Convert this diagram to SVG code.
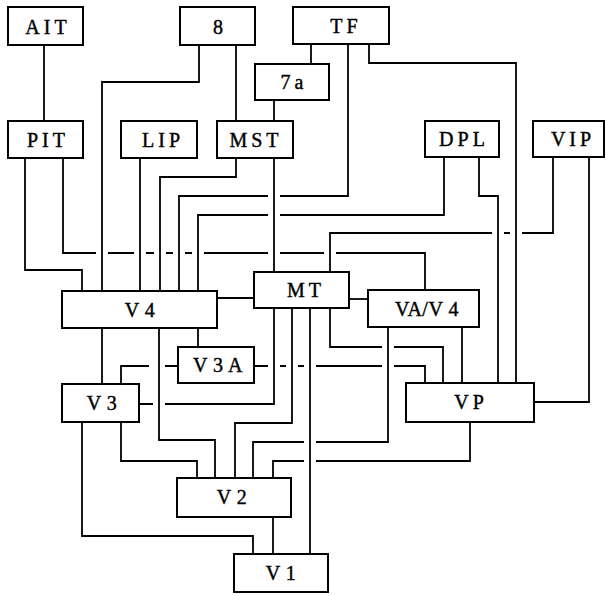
<svg xmlns="http://www.w3.org/2000/svg" width="606" height="596" viewBox="0 0 606 596">
<style>
.box rect{fill:#fff;stroke:#000;stroke-width:2}
.box text{font-family:"Liberation Serif","Times New Roman",serif;font-size:20px;fill:#000;text-anchor:middle;letter-spacing:4px;stroke:#000;stroke-width:0.4}
.box text.v{letter-spacing:0.5px}
#connectors path{fill:none;stroke:#000;stroke-width:1.8}
</style>
<rect width="606" height="596" fill="#fff"/>
<g id="connectors">
<path d="M44 45V121"/>
<path d="M236 45V121"/>
<path d="M199 45V82H102V291"/>
<path d="M311 44V64"/>
<path d="M274 100V121"/>
<path d="M348 44V196H280M268 196H179V291"/>
<path d="M369 44V63H516V383"/>
<path d="M236 158V177H160V291"/>
<path d="M274 158V272"/>
<path d="M140 158V291"/>
<path d="M25 158V270H82V291"/>
<path d="M63 158V253H96M108 253H134M146 253H154M166 253H173M185 253H192M204 253H268M280 253H324M336 253H425V290"/>
<path d="M444 157V215H280M268 215H198V291"/>
<path d="M479 157V196H498V383"/>
<path d="M553 157V233H522M510 233H504M492 233H330V272"/>
<path d="M589 157V402H534"/>
<path d="M217 298H254"/>
<path d="M349 299H368"/>
<path d="M102 328V384"/>
<path d="M198 328V347"/>
<path d="M159 328V440H215V478"/>
<path d="M121 384V366H149M165 366H178"/>
<path d="M254 366H268M280 366H286M298 366H304M316 366H382M394 366H425V383"/>
<path d="M274 308V404H165M153 404H139"/>
<path d="M292 308V423H235V478"/>
<path d="M310 308V554"/>
<path d="M330 308V347H382M394 347H443V383"/>
<path d="M462 327V383"/>
<path d="M388 327V442H316M304 442H253V478"/>
<path d="M470 422V461H316M304 461H273V478"/>
<path d="M121 422V461H197V478"/>
<path d="M82 422V536H253V554"/>
<path d="M273 517V554"/>
</g>
<g id="AIT" class="box"><rect x="8" y="7" width="75" height="38"/><text x="48" y="34">AIT</text></g>
<g id="n8" class="box"><rect x="180" y="7" width="75" height="38"/><text x="220" y="34">8</text></g>
<g id="TF" class="box"><rect x="293" y="7" width="96" height="37"/><text x="346" y="33">TF</text></g>
<g id="n7a" class="box"><rect x="255" y="64" width="74" height="36"/><text x="294" y="89">7a</text></g>
<g id="PIT" class="box"><rect x="8" y="121" width="75" height="37"/><text x="48" y="147">PIT</text></g>
<g id="LIP" class="box"><rect x="121" y="121" width="76" height="37"/><text x="163" y="147">LIP</text></g>
<g id="MST" class="box"><rect x="217" y="121" width="76" height="37"/><text x="256" y="147">MST</text></g>
<g id="DPL" class="box"><rect x="425" y="121" width="74" height="36"/><text x="464" y="146">DPL</text></g>
<g id="VIP" class="box"><rect x="533" y="121" width="71" height="36"/><text x="573" y="146">VIP</text></g>
<g id="V4" class="box"><rect x="62" y="291" width="155" height="37"/><text class="v" x="140" y="317">V 4</text></g>
<g id="MT" class="box"><rect x="254" y="272" width="95" height="36"/><text x="306" y="297">MT</text></g>
<g id="VAV4" class="box"><rect x="368" y="290" width="111" height="37"/><text class="v" x="427" y="316">VA/V 4</text></g>
<g id="V3A" class="box"><rect x="178" y="347" width="76" height="36"/><text class="v" x="218" y="372">V 3 A</text></g>
<g id="V3" class="box"><rect x="62" y="384" width="77" height="38"/><text class="v" x="102" y="410">V 3</text></g>
<g id="VP" class="box"><rect x="406" y="383" width="128" height="39"/><text x="471" y="409">VP</text></g>
<g id="V2" class="box"><rect x="177" y="478" width="114" height="39"/><text class="v" x="232" y="504">V 2</text></g>
<g id="V1" class="box"><rect x="234" y="554" width="94" height="38"/><text class="v" x="281" y="580">V 1</text></g>
</svg>
